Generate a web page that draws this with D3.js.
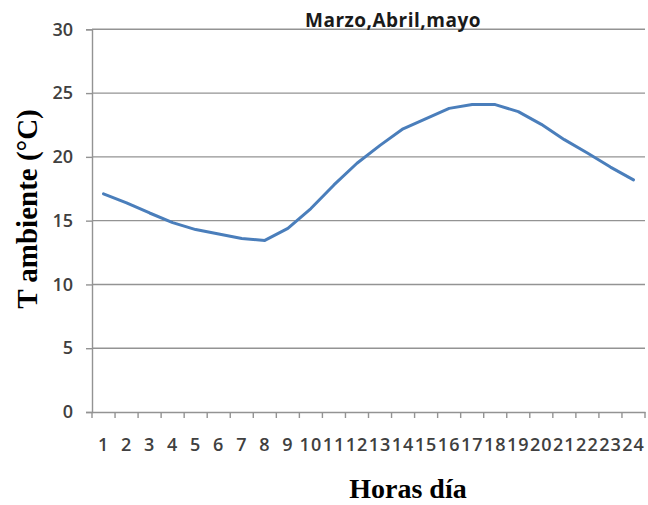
<!DOCTYPE html>
<html>
<head>
<meta charset="utf-8">
<script src="https://cdn.jsdelivr.net/npm/d3@7"></script>
<style>
  html, body { margin: 0; padding: 0; background: #fff; }
  svg { display: block; }
</style>
</head>
<body>
<svg id="chart" width="648" height="505"></svg>
<script>
const hours = ["1","2","3","4","5","6","7","8","9","10","11","12","13","14","15","16","17","18","19","20","21","22","23","24"];
const temps = [17.1, 16.4, 15.6, 14.85, 14.3, 13.95, 13.6, 13.45, 14.4, 15.95, 17.8, 19.5, 20.9, 22.2, 23.0, 23.8, 24.1, 24.1, 23.55, 22.55, 21.35, 20.3, 19.2, 18.2];
const yTicks = [0, 5, 10, 15, 20, 25, 30];
const title = "Marzo,Abril,mayo";
const xTitle = "Horas día";
const yTitle = "T ambiente (°C)";

const svg = d3.select("#chart");
const plotLeft = 92, plotRight = 645, plotTop = 29.3, plotBottom = 412;

const x = d3.scaleBand().domain(hours).range([plotLeft, plotRight]).padding(0);
const y = d3.scaleLinear().domain([0, 30]).range([plotBottom, plotTop]);

// gridlines
svg.append("g")
  .selectAll("line")
  .data(yTicks.filter(d => d > 0))
  .join("line")
  .attr("x1", plotLeft).attr("x2", plotRight)
  .attr("y1", d => y(d)).attr("y2", d => y(d))
  .attr("stroke", "#939393").attr("stroke-width", 1.4);

// y axis
const yAxis = svg.append("g")
  .attr("transform", `translate(${plotLeft},0)`)
  .call(d3.axisLeft(y).tickValues(yTicks).tickSize(6).tickPadding(13));
yAxis.select(".domain").attr("stroke", "#939393").attr("stroke-width", 1.4);
yAxis.selectAll(".tick line").attr("stroke", "#939393").attr("stroke-width", 1.4);
yAxis.selectAll(".tick text")
  .attr("font-family", "'Open Sans', sans-serif")
  .attr("font-size", 18).attr("font-weight", 600)
  .attr("fill", "#404040");

// x axis
const xAxis = svg.append("g")
  .attr("transform", `translate(0,${plotBottom})`)
  .call(d3.axisBottom(x).tickSize(0).tickPadding(0));
xAxis.select(".domain").attr("stroke", "#939393").attr("stroke-width", 1.4);
xAxis.selectAll(".tick text")
  .attr("font-family", "'Open Sans', sans-serif")
  .attr("font-size", 18).attr("font-weight", 600)
  .attr("fill", "#404040")
  .attr("letter-spacing", "1px")
  .attr("dy", null)
  .attr("y", 39);
// boundary ticks between categories
const bounds = hours.map(h => x(h)).concat([x(hours[hours.length - 1]) + x.bandwidth()]);
xAxis.append("g").selectAll("line")
  .data(bounds)
  .join("line")
  .attr("x1", d => d).attr("x2", d => d)
  .attr("y1", 0).attr("y2", 6)
  .attr("stroke", "#939393").attr("stroke-width", 1.4);

// line
const line = d3.line()
  .x((d, i) => x(hours[i]) + x.bandwidth() / 2)
  .y(d => y(d));
svg.append("path")
  .datum(temps)
  .attr("d", line)
  .attr("fill", "none")
  .attr("stroke", "#4a7ebb")
  .attr("stroke-width", 3)
  .attr("stroke-linejoin", "round")
  .attr("stroke-linecap", "round");

// title
svg.append("text")
  .attr("x", 393).attr("y", 27)
  .attr("text-anchor", "middle")
  .attr("font-family", "'Open Sans', sans-serif")
  .attr("font-size", 19).attr("font-weight", 700)
  .attr("letter-spacing", "0.5px")
  .attr("fill", "#1a1a1a")
  .text(title);

// axis titles
svg.append("text")
  .attr("x", 408).attr("y", 498)
  .attr("text-anchor", "middle")
  .attr("font-family", "'Liberation Serif', 'Times New Roman', serif")
  .attr("font-size", 28).attr("font-weight", 700)
  .attr("fill", "#000")
  .text(xTitle);

svg.append("text")
  .attr("transform", "translate(37,209) rotate(-90)")
  .attr("text-anchor", "middle")
  .attr("font-family", "'Liberation Serif', 'Times New Roman', serif")
  .attr("font-size", 29).attr("font-weight", 700)
  .attr("fill", "#000")
  .text(yTitle);
</script>
</body>
</html>
